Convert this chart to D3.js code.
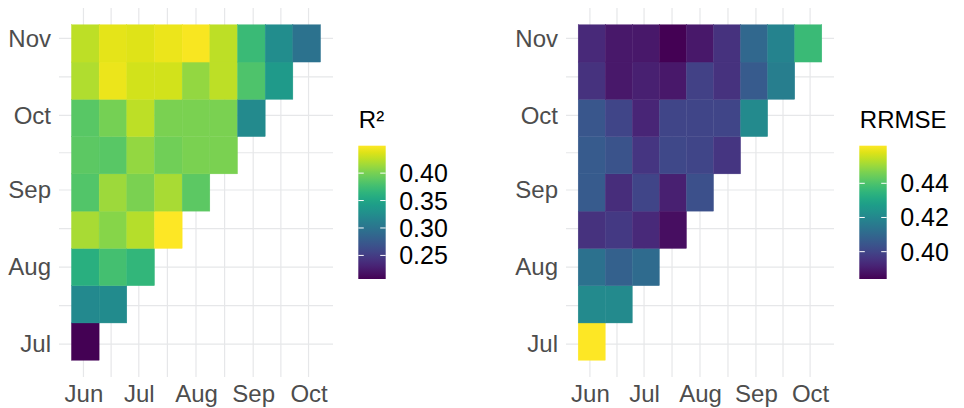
<!DOCTYPE html>
<html>
<head>
<meta charset="utf-8">
<script src="https://cdn.jsdelivr.net/npm/d3@7"></script>
<style>
  html, body { margin: 0; padding: 0; background: #ffffff; }
  svg { display: block; font-family: "Liberation Sans", Arial, Helvetica, sans-serif; }
</style>
</head>
<body>
<svg id="chart" width="964" height="408"></svg>
<script>
// Window start dates (columns) and window end dates (rows), 15-day steps
const startDates = ["2021-06-02", "2021-06-17", "2021-07-02", "2021-07-17", "2021-08-01",
                    "2021-08-16", "2021-08-31", "2021-09-15", "2021-09-30"];
const endDates   = ["2021-07-02", "2021-07-17", "2021-08-01", "2021-08-16", "2021-08-31",
                    "2021-09-15", "2021-09-30", "2021-10-15", "2021-10-30"];

// Axis ticks (first of each month)
const xTickDates  = ["2021-06-01", "2021-07-01", "2021-08-01", "2021-09-01", "2021-10-01"];
const xTickLabels = ["Jun", "Jul", "Aug", "Sep", "Oct"];
const yTickDates  = ["2021-07-01", "2021-08-01", "2021-09-01", "2021-10-01", "2021-11-01"];
const yTickLabels = ["Jul", "Aug", "Sep", "Oct", "Nov"];

// R² per end date (row) and start date (column); row k holds k+1 windows
const r2Values = [
  [0.207],
  [0.321, 0.323],
  [0.360, 0.377, 0.367],
  [0.418, 0.406, 0.423, 0.450],
  [0.384, 0.414, 0.401, 0.418, 0.389],
  [0.389, 0.387, 0.411, 0.397, 0.401, 0.401],
  [0.387, 0.399, 0.426, 0.401, 0.401, 0.401, 0.322],
  [0.421, 0.443, 0.433, 0.433, 0.411, 0.426, 0.382, 0.338],
  [0.426, 0.440, 0.438, 0.443, 0.448, 0.426, 0.372, 0.325, 0.299]
];

// RRMSE, same layout
const rrmseValues = [
  [0.462],
  [0.421, 0.421],
  [0.413, 0.408, 0.411],
  [0.395, 0.397, 0.393, 0.387],
  [0.406, 0.394, 0.400, 0.391, 0.403],
  [0.406, 0.404, 0.396, 0.401, 0.400, 0.396],
  [0.405, 0.400, 0.392, 0.400, 0.400, 0.400, 0.421],
  [0.395, 0.389, 0.391, 0.389, 0.399, 0.395, 0.406, 0.417],
  [0.393, 0.389, 0.389, 0.384, 0.389, 0.395, 0.410, 0.419, 0.437]
];

const r2Ticks = [0.25, 0.30, 0.35, 0.40];
const rrmseTicks = [0.40, 0.42, 0.44];

const parse = d3.utcParse("%Y-%m-%d");
const DAY = 864e5;
const HALF = 7.5 * DAY;

const svg = d3.select("#chart");
const fontAxis = 24;
const fontLegend = 25;
const gridColor = "#e6e7e9";
const panelTop = 8, panelBottom = 377;

function expand(lo, hi, f) {
  const d = (hi - lo) * f;
  return [new Date(+lo - d), new Date(+hi + d)];
}

function drawPanel(cfg, idx) {
  const sd = startDates.map(parse);
  const ed = endDates.map(parse);
  const x = d3.scaleUtc()
    .domain(expand(+d3.min(sd) - HALF, +d3.max(sd) + HALF, 0.05))
    .range([cfg.left, cfg.right]);
  const y = d3.scaleUtc()
    .domain(expand(+d3.min(ed) - HALF, +d3.max(ed) + HALF, 0.05))
    .range([panelBottom, panelTop]);

  const g = svg.append("g");

  // grid: major at month starts, minor halfway between
  const xMaj = xTickDates.map(parse);
  const yMaj = yTickDates.map(parse);
  const mids = arr => d3.pairs(arr).map(([a, b]) => new Date((+a + +b) / 2));
  const xMin = mids(xMaj), yMin = mids(yMaj);

  const grid = g.append("g");
  grid.selectAll("line.vx").data(xMaj.concat(xMin)).join("line")
    .attr("x1", d => x(d)).attr("x2", d => x(d))
    .attr("y1", panelTop).attr("y2", panelBottom)
    .attr("stroke", gridColor).attr("stroke-width", 1.2);
  grid.selectAll("line.hy").data(yMaj.concat(yMin)).join("line")
    .attr("y1", d => y(d)).attr("y2", d => y(d))
    .attr("x1", cfg.left).attr("x2", cfg.right)
    .attr("stroke", gridColor).attr("stroke-width", 1.2);

  // tiles
  const cells = [];
  cfg.values.forEach((row, r) => row.forEach((v, c) => cells.push({ s: sd[c], e: ed[r], v })));
  const color = d3.scaleSequential(d3.interpolateViridis).domain(d3.extent(cells, d => d.v));

  g.append("g").selectAll("rect").data(cells).join("rect")
    .attr("x", d => x(new Date(+d.s - HALF)))
    .attr("width", d => x(new Date(+d.s + HALF)) - x(new Date(+d.s - HALF)))
    .attr("y", d => y(new Date(+d.e + HALF)))
    .attr("height", d => y(new Date(+d.e - HALF)) - y(new Date(+d.e + HALF)))
    .attr("fill", d => color(d.v))
    .attr("stroke", d => color(d.v))
    .attr("stroke-width", 0.4);

  // axes
  const xAxis = d3.axisBottom(x).tickValues(xMaj)
    .tickFormat((d, i) => xTickLabels[i]).tickSize(0).tickPadding(8);
  const yAxis = d3.axisLeft(y).tickValues(yMaj)
    .tickFormat((d, i) => yTickLabels[i]).tickSize(0).tickPadding(8);

  const ax = g.append("g").attr("transform", `translate(0,${panelBottom})`).call(xAxis);
  const ay = g.append("g").attr("transform", `translate(${cfg.left},0)`).call(yAxis);
  [ax, ay].forEach(a => {
    a.select(".domain").remove();
    a.selectAll("text")
      .attr("fill", "#4d4d4d")
      .style("font-size", fontAxis + "px")
      .style("font-family", "'Liberation Sans', Arial, sans-serif");
  });

  // colour bar legend
  const barW = 27.4, barTop = 145.7, barBottom = 279;
  const ly = d3.scaleLinear().domain(color.domain()).range([barBottom, barTop]);
  const gradId = "grad" + idx;
  const grad = svg.append("defs").append("linearGradient")
    .attr("id", gradId).attr("x1", 0).attr("y1", 1).attr("x2", 0).attr("y2", 0);
  d3.range(0, 1.0001, 0.05).forEach(t => {
    grad.append("stop").attr("offset", t).attr("stop-color", d3.interpolateViridis(t));
  });
  const lg = svg.append("g");
  lg.append("rect")
    .attr("x", cfg.legendX).attr("y", barTop)
    .attr("width", barW).attr("height", barBottom - barTop)
    .attr("fill", `url(#${gradId})`);
  const tickLen = barW / 5;
  cfg.ticks.forEach(t => {
    [[cfg.legendX, cfg.legendX + tickLen], [cfg.legendX + barW - tickLen, cfg.legendX + barW]].forEach(([a, b]) => {
      lg.append("line")
        .attr("x1", a).attr("x2", b).attr("y1", ly(t)).attr("y2", ly(t))
        .attr("stroke", "#ffffff").attr("stroke-width", 1);
    });
  });
  lg.selectAll("text.lab").data(cfg.ticks).join("text")
    .attr("x", cfg.legendX + barW + 13.5)
    .attr("y", d => ly(d))
    .attr("dy", "0.36em")
    .attr("fill", "#000")
    .style("font-size", fontLegend + "px")
    .text(d => d3.format(".2f")(d));
  lg.append("text")
    .attr("x", cfg.legendX + 0.5)
    .attr("y", 127.5)
    .attr("fill", "#000")
    .style("font-size", "24px")
    .text(cfg.title);
}

drawPanel({ left: 59, right: 333, legendX: 358.3, values: r2Values, ticks: r2Ticks, title: "R²" }, 0);
drawPanel({ left: 566, right: 834, legendX: 859.3, values: rrmseValues, ticks: rrmseTicks, title: "RRMSE" }, 1);
</script>
</body>
</html>
